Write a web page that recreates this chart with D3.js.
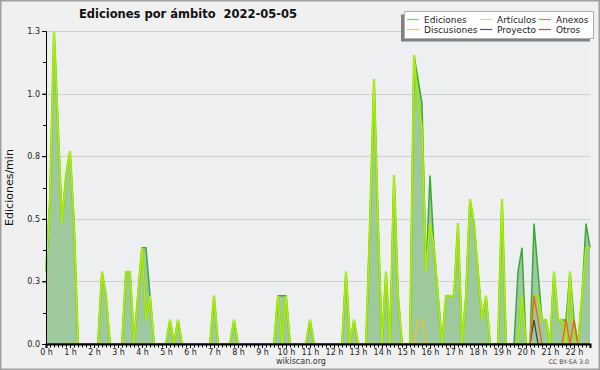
<!DOCTYPE html>
<html><head><meta charset="utf-8">
<script src="https://cdn.jsdelivr.net/npm/d3@7"></script>
<style>body{margin:0;background:#f0f0f0}svg{display:block}</style>
</head><body><svg id="c" width="600" height="370"></svg>
<script>
// 10-minute slots from 0:00 to 22:40
const slotMinutes = 10;
const ediciones = [
0.3,0.6,1.3,0.9,0.5,0.7,0.8,0.5,0,0,
0,0,0,0,0.3,0.2,0,0,0,0,
0.3,0.3,0,0.2,0.4,0.4,0.2,0,0,0,
0,0.1,0,0.1,0,0,0,0,0,0,
0,0,0.2,0,0,0,0,0.1,0,0,
0,0,0,0,0,0,0,0,0.2,0.2,
0.2,0,0,0,0,0,0.1,0,0,0,
0,0,0,0,0,0.3,0,0.1,0,0,
0,0.5,1.1,0.5,0,0.3,0,0.7,0.2,0,
0,0,1.2,1.1,1.0,0.3,0.7,0.4,0.2,0,
0.2,0.2,0.2,0.5,0,0.2,0.6,0.5,0.3,0.1,
0.2,0,0,0,0.6,0,0,0,0.3,0.4,
0,0,0.5,0.3,0.1,0.1,0,0.3,0.1,0.1,
0.1,0.3,0.1,0,0.2,0.5,0.4];
const articulos = [
0.3,0.6,1.3,0.9,0.5,0.7,0.8,0.5,0,0,
0,0,0,0,0.3,0.2,0,0,0,0,
0.3,0.3,0,0.2,0.4,0.1,0.2,0,0,0,
0,0.1,0,0.1,0,0,0,0,0,0,
0,0,0.2,0,0,0,0,0.1,0,0,
0,0,0,0,0,0,0,0,0.2,0,
0.2,0,0,0,0,0,0.1,0,0,0,
0,0,0,0,0,0.3,0,0.1,0,0,
0,0.5,1.1,0.5,0,0.3,0,0.7,0.2,0,
0,0,1.2,1.0,0.9,0.3,0.5,0.4,0.2,0,
0.2,0.2,0.2,0.5,0,0.2,0.6,0.5,0.3,0.1,
0.2,0,0,0,0.6,0,0,0,0,0.2,
0,0,0.2,0.2,0.1,0.1,0,0.3,0.1,0.1,
0,0.3,0,0,0.2,0.4,0.4];
const anexos = [
0,0,0,0,0,0,0,0,0,0, 0,0,0,0,0,0,0,0,0,0, 0,0,0,0,0,0,0,0,0,0,
0,0,0,0,0,0,0,0,0,0, 0,0,0,0,0,0,0,0,0,0, 0,0,0,0,0,0,0,0,0,0,
0,0,0,0,0,0,0,0,0,0, 0,0,0,0,0,0,0,0,0,0, 0,0,0,0,0,0,0,0,0,0,
0,0,0,0,0,0,0,0,0,0, 0,0,0,0,0,0,0,0,0,0, 0,0,0,0,0,0,0,0,0,0,
0,0,0.2,0.1,0,0,0,0,0,0, 0.1,0,0.1,0,0,0,0];
const discusiones = [
0,0,0,0,0,0,0,0,0,0, 0,0,0,0,0,0,0,0,0,0, 0,0,0,0,0,0,0,0,0,0,
0,0,0,0,0,0,0,0,0,0, 0,0,0,0,0,0,0,0,0,0, 0,0,0,0,0,0,0,0,0,0,
0,0,0,0,0,0,0,0,0,0, 0,0,0,0,0,0,0,0,0,0, 0,0,0,0,0,0,0,0,0,0,
0,0,0,0.1,0.1,0,0,0,0,0, 0,0,0,0,0,0,0,0,0,0, 0,0,0,0,0,0,0,0,0,0,
0,0,0,0,0,0,0,0,0,0, 0,0,0,0,0,0,0];
const proyecto = [
0,0,0,0,0,0,0,0,0,0, 0,0,0,0,0,0,0,0,0,0, 0,0,0,0,0,0,0,0,0,0,
0,0,0,0,0,0,0,0,0,0, 0,0,0,0,0,0,0,0,0,0, 0,0,0,0,0,0,0,0,0,0,
0,0,0,0,0,0,0,0,0,0, 0,0,0,0,0,0,0,0,0,0, 0,0,0,0,0,0,0,0,0,0,
0,0,0,0,0,0,0,0,0,0, 0,0,0,0,0,0,0,0,0,0, 0,0,0,0,0,0,0,0,0,0,
0,0,0.1,0,0,0,0,0,0,0, 0,0,0,0,0,0,0];
const otros = ediciones.map(() => 0);
const yTicks = [0, 0.26, 0.52, 0.78, 1.04, 1.3];
const hourLabels = d3.range(0, 23).map(h => h + " h");
const legendItems = [
  {name:"Ediciones", color:"#7fcf7f"}, {name:"Artículos", color:"#c4f040"}, {name:"Anexos", color:"#f07840"},
  {name:"Discusiones", color:"#f8c838"}, {name:"Proyecto", color:"#555555"}, {name:"Otros", color:"#9a40f0"}
];

const svg = d3.select("#c");
const L = 46, R = 590, T = 31, B = 344;
const minutes = ediciones.map((_, i) => i * slotMinutes);
const x = d3.scaleLinear().domain([0, minutes[minutes.length-1]]).range([L, R]);
const y = d3.scaleLinear().domain([0, 1.3]).range([B, T]);

// frame
svg.append("rect").attr("x",0.75).attr("y",0.75).attr("width",598.5).attr("height",368.5)
  .attr("fill","#f0f0f0").attr("stroke","#a0a0a0").attr("stroke-width",1.5);
svg.append("rect").attr("x",L).attr("y",T).attr("width",R-L).attr("height",B-T).attr("fill","#eeeff1");

// grid
svg.append("g").selectAll("line").data(yTicks.slice(1)).join("line")
  .attr("x1",L).attr("x2",R).attr("y1",d=>Math.round(y(d))+0.5).attr("y2",d=>Math.round(y(d))+0.5)
  .attr("stroke","#cfcfcf").attr("stroke-width",1);

const area = d3.area().x((d,i)=>x(minutes[i])).y0(B).y1(d=>y(d));
const line = d3.line().x((d,i)=>x(minutes[i])).y(d=>y(d));

svg.append("path").datum(ediciones).attr("d",area).attr("fill","#9dc99d");
svg.append("path").datum(ediciones).attr("d",line).attr("fill","none").attr("stroke","#3aa83a").attr("stroke-width",1.5);
svg.append("path").datum(articulos).attr("d",line).attr("fill","none").attr("stroke","#88dd00").attr("stroke-width",2.2);
svg.append("path").datum(articulos).attr("d",line).attr("fill","none").attr("stroke","#c8f020").attr("stroke-width",0.8);
svg.append("path").datum(discusiones).attr("d",line).attr("fill","none").attr("stroke","#f0c020").attr("stroke-width",1.3);
svg.append("path").datum(proyecto).attr("d",line).attr("fill","none").attr("stroke","#444").attr("stroke-width",1.3);
svg.append("path").datum(anexos).attr("d",line).attr("fill","none").attr("stroke","#f06020").attr("stroke-width",1.3);
svg.append("path").datum(otros).attr("d",line).attr("fill","none").attr("stroke","#9933ee").attr("stroke-width",1.3);

// y axis
const yAxis = d3.axisLeft(y).tickValues(yTicks).tickFormat(d3.format(".1f")).tickSize(4).tickPadding(2);
const gy = svg.append("g").attr("transform",`translate(${L},0)`).call(yAxis);
gy.selectAll("text").attr("font-family","DejaVu Sans").attr("font-size",8).attr("fill","#222");
gy.select(".domain").attr("stroke","#000");
const yMinor = d3.range(0, 11).map(k => k * 0.13);
svg.append("g").selectAll("line").data(yMinor).join("line")
  .attr("x1",L-3).attr("x2",L).attr("y1",d=>Math.round(y(d))+0.5).attr("y2",d=>Math.round(y(d))+0.5).attr("stroke","#000");

// x axis
const xAxis = d3.axisBottom(x).tickValues(d3.range(0, 23).map(h=>h*60)).tickFormat((d,i)=>hourLabels[i]).tickSize(4).tickPadding(1);
const gx = svg.append("g").attr("transform",`translate(0,${B})`).call(xAxis);
gx.selectAll("text").attr("font-family","DejaVu Sans").attr("font-size",8).attr("fill","#222");
gx.select(".domain").attr("stroke","#000").attr("stroke-width",2);
svg.append("g").selectAll("line").data(minutes).join("line")
  .attr("x1",d=>Math.round(x(d))+0.5).attr("x2",d=>Math.round(x(d))+0.5).attr("y1",B).attr("y2",B+3.5).attr("stroke","#000");

// labels
svg.append("text").attr("x",188).attr("y",18).attr("text-anchor","middle").attr("font-family","DejaVu Sans")
  .attr("font-weight","bold").attr("font-size",11.5).attr("fill","#111").style("white-space","pre")
  .text("Ediciones por ámbito  2022-05-05");
svg.append("text").attr("transform",`translate(13,${(T+B)/2}) rotate(-90)`).attr("text-anchor","middle")
  .attr("font-family","DejaVu Sans").attr("font-size",11).attr("fill","#111").text("Ediciones/min");
svg.append("text").attr("x",301).attr("y",364).attr("text-anchor","middle").attr("font-family","DejaVu Sans")
  .attr("font-size",8).attr("fill","#333").text("wikiscan.org");
svg.append("text").attr("x",589).attr("y",364).attr("text-anchor","end").attr("font-family","DejaVu Sans")
  .attr("font-size",6.3).attr("fill","#444").text("CC BY-SA 3.0");

// legend
svg.append("rect").attr("x",401).attr("y",14.5).attr("width",189).attr("height",27).attr("fill","#808080");
svg.append("rect").attr("x",404.5).attr("y",11.5).attr("width",189).attr("height",27).attr("fill","#fff").attr("stroke","#b0b0b0");
const colX = [407, 480, 539];
const rowY = [19.5, 29.5];
const order = [[0,0],[1,0],[2,0],[0,1],[1,1],[2,1]];
const lg = svg.append("g").selectAll("g").data(legendItems).join("g")
  .attr("transform",(d,i)=>`translate(${colX[order[i][0]]},${rowY[order[i][1]]})`);
lg.append("line").attr("x1",0).attr("x2",12).attr("y1",0).attr("y2",0).attr("stroke",d=>d.color).attr("stroke-width",1.2);
lg.append("text").attr("x",17).attr("y",3.3).attr("font-family","DejaVu Sans").attr("font-size",9).attr("fill","#222").text(d=>d.name);
</script></body></html>
